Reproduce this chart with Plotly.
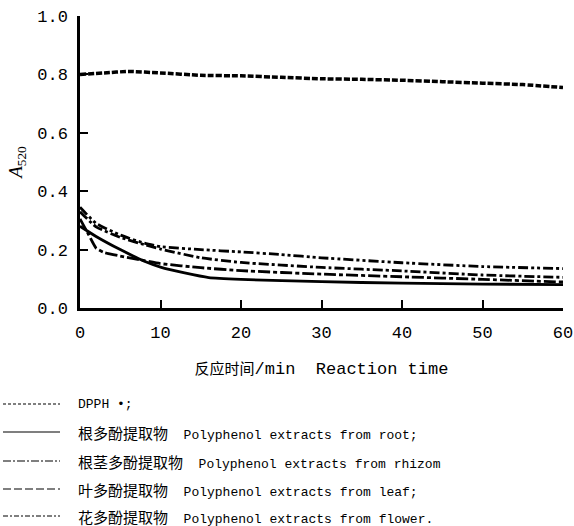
import plotly.graph_objects as go

# ---- data ----
t_dpph = [0, 3, 6, 10, 15, 20, 25, 30, 35, 40, 45, 50, 55, 60]
a_dpph = [0.800, 0.805, 0.810, 0.805, 0.797, 0.795, 0.790, 0.785, 0.783, 0.780, 0.775, 0.770, 0.765, 0.755]

t_root = [0, 2, 5, 8, 10, 13, 16, 20, 30, 40, 50, 60]
a_root = [0.280, 0.245, 0.200, 0.160, 0.140, 0.120, 0.104, 0.098, 0.090, 0.085, 0.082, 0.080]

t_rhizome = [0, 2, 5, 8, 10, 15, 20, 25, 30, 40, 50, 60]
a_rhizome = [0.345, 0.290, 0.250, 0.222, 0.210, 0.200, 0.192, 0.183, 0.172, 0.155, 0.142, 0.135]

t_leaf = [0, 1, 2, 3, 5, 8, 10, 15, 20, 30, 40, 50, 60]
a_leaf = [0.305, 0.255, 0.205, 0.190, 0.178, 0.162, 0.152, 0.138, 0.128, 0.116, 0.107, 0.098, 0.089]

t_flower = [0, 2, 5, 8, 10, 15, 20, 30, 40, 50, 60]
a_flower = [0.330, 0.278, 0.242, 0.217, 0.202, 0.172, 0.156, 0.139, 0.127, 0.113, 0.105]

x_ticks = [0, 10, 20, 30, 40, 50, 60]
y_ticks = [0.0, 0.2, 0.4, 0.6, 0.8, 1.0]
y_ticklabels = ["0.0", "0.2", "0.4", "0.6", "0.8", "1.0"]

legend_cn = ["", "根多酚提取物", "根茎多酚提取物", "叶多酚提取物", "花多酚提取物"]
legend_en = ["DPPH •;", "Polyphenol extracts from root;", "Polyphenol extracts from rhizom",
             "Polyphenol extracts from leaf;", "Polyphenol extracts from flower."]

# ---- styles ----
MONO = "Liberation Mono, DejaVu Sans Mono, monospace"
CJK = "Noto Sans CJK SC"
W, H = 574, 526
# target plot box in screenshot pixels: x 80..563, y 16..308
L, T = 80, 16
R = W - 563
B = H - 308
PW, PH = W - L - R, H - T - B

series = [
    (t_dpph, a_dpph, "6px,2px", 3.5),
    (t_root, a_root, "solid", 2.8),
    (t_rhizome, a_rhizome, "10px,3px,3px,3px,3px,3px", 2.8),
    (t_leaf, a_leaf, "12px,3px,4px,3px", 2.8),
    (t_flower, a_flower, "10px,3px,3px,3px", 2.8),
]
legend_dash = ["3px,2px", "solid", "8px,2px,2px,2px", "8px,3px", "5px,2px,2px,2px"]

fig = go.Figure()
for xs, ys, dash, w in series:
    fig.add_trace(go.Scatter(x=xs, y=ys, mode="lines",
                             line=dict(color="black", width=w, dash=dash, shape="spline", smoothing=0.5),
                             showlegend=False, hoverinfo="skip"))

def px_x(p):  # screenshot pixel -> paper
    return (p - L) / PW

def px_y(p):
    return (H - B - p) / PH

rows = [404, 432, 461, 489, 516]
shapes = []
annotations = []
for i, yy in enumerate(rows):
    shapes.append(dict(type="line", xref="paper", yref="paper", x0=px_x(3), x1=px_x(60), y0=px_y(yy), y1=px_y(yy),
                       line=dict(color="black", width=1.2, dash=legend_dash[i])))
    if legend_cn[i]:
        txt = f"<span style='font-family:{CJK};font-size:15px'>{legend_cn[i]}</span>  {legend_en[i]}"
    else:
        txt = legend_en[i]
    annotations.append(dict(xref="paper", yref="paper", x=px_x(76), y=px_y(yy), xanchor="left", yanchor="middle",
                            showarrow=False, text=txt, font=dict(family=MONO, size=13, color="black")))

fig.update_layout(
    width=W, height=H,
    margin=dict(l=L, r=R, t=T, b=B, pad=0, autoexpand=False),
    paper_bgcolor="white", plot_bgcolor="white",
    font=dict(family=MONO, color="black", size=17),
    shapes=shapes, annotations=annotations,
    xaxis=dict(range=[0, 60], tickvals=x_ticks, ticks="inside", ticklen=8, tickwidth=2, tickcolor="black",
               showline=True, linecolor="black", linewidth=2.5, showgrid=False, zeroline=False, automargin=False,
               tickfont=dict(family=MONO, size=17), ticklabelstandoff=7, ticklabeloverflow="allow",
               title=dict(text=f"<span style='font-family:{CJK};font-size:15px'>反应时间</span>/min  Reaction time",
                          font=dict(family=MONO, size=17), standoff=20)),
    yaxis=dict(range=[0, 1.0], tickvals=y_ticks, ticktext=y_ticklabels, ticks="inside", ticklen=8, tickwidth=2,
               tickcolor="black", showline=True, linecolor="black", linewidth=2.5, showgrid=False, zeroline=False,
               automargin=False, tickfont=dict(family=MONO, size=17), ticklabelstandoff=6, ticklabeloverflow="allow",
               title=dict(text="<i>A</i><sub>520</sub>", font=dict(family="Liberation Serif", size=19), standoff=10)),
)

fig.write_html("out.html", config={"displayModeBar": False},
               post_script="document.body.style.margin='0';document.body.style.overflow='hidden';")
